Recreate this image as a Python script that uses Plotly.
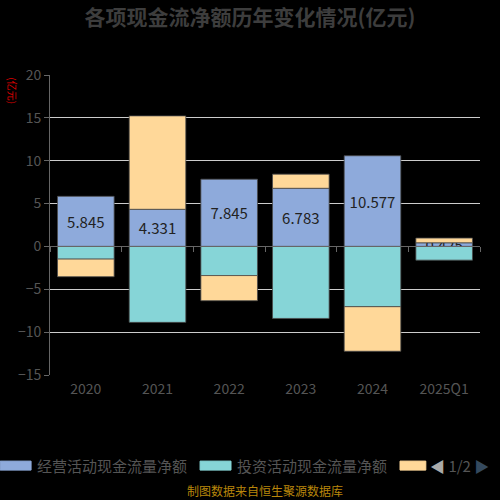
import plotly.graph_objects as go

categories = ["2020", "2021", "2022", "2023", "2024", "2025Q1"]
operating = [5.845, 4.331, 7.845, 6.783, 10.577, 0.425]
investing = [-1.48, -8.86, -3.40, -8.40, -7.03, -1.60]
financing = [-2.05, 10.90, -2.93, 1.65, -5.20, 0.55]
series_names = ["经营活动现金流量净额", "投资活动现金流量净额", "筹资活动现金流量净额"]
colors = ["#8eaadb", "#86d5d7", "#ffd899"]

font = "Noto Sans CJK SC"
fig = go.Figure()

for name, vals, col in zip(series_names, [operating, investing, financing], colors):
    fig.add_trace(go.Bar(
        x=categories, y=vals, name=name,
        marker=dict(color=col, line=dict(color="#4a4a4a", width=0.8)),
        text=[f"{v:.3f}" for v in vals] if vals is operating else None,
        textposition="inside" if vals is operating else None,
        insidetextanchor="middle",
        constraintext="none",
        textfont=dict(color="#222222", size=15, family=font),
        showlegend=False,
    ))

# axis line on zero with ticks between categories
fig.add_trace(go.Scatter(x=[None], y=[None], xaxis="x2", showlegend=False))

fig.update_layout(
    width=500, height=500,
    paper_bgcolor="black", plot_bgcolor="black",
    barmode="relative", bargap=0.21,
    margin=dict(l=50, r=20, t=75, b=125),
    font=dict(family=font, color="#555555"),
    title=dict(text="<b>各项现金流净额历年变化情况(亿元)</b>", x=0.5, xanchor="center",
               y=0.965, yanchor="middle",
               font=dict(size=21, color="#3d3d3d", family=font)),
    xaxis=dict(type="category", categoryarray=categories, showline=False, ticks="",
               showgrid=False, tickfont=dict(size=14, color="#555555"), ticklabelstandoff=4),
    xaxis2=dict(overlaying="x", anchor="free", position=15 / 35, range=[-0.5, 5.5],
                showline=True, linecolor="#666666", linewidth=1,
                tickmode="array", tickvals=[i - 0.5 for i in range(len(categories) + 1)],
                ticks="outside", ticklen=5, tickcolor="#666666",
                showticklabels=False, showgrid=False, zeroline=False),
    yaxis=dict(range=[-15, 20], dtick=5, showgrid=True, gridcolor="#cccccc", gridwidth=1,
               zeroline=False, showline=True, linecolor="#666666", ticks="outside",
               ticklen=5, tickcolor="#666666", tickfont=dict(size=14, color="#555555")),
    annotations=[
        dict(text="(亿元)", xref="paper", yref="paper", x=-0.088, y=1.0, xanchor="center",
             yanchor="top", textangle=90, showarrow=False,
             font=dict(size=10, color="#dd0000", family=font)),
        dict(text="经营活动现金流量净额", xref="paper", yref="paper", x=-0.035, y=-0.30,
             xanchor="left", yanchor="middle", showarrow=False,
             font=dict(size=15, color="#555555")),
        dict(text="投资活动现金流量净额", xref="paper", yref="paper", x=0.43, y=-0.30,
             xanchor="left", yanchor="middle", showarrow=False,
             font=dict(size=15, color="#555555")),
        dict(text="<span style='color:#aaaaaa'>◀</span> 1/2 <span style='color:#34495e'>▶</span>",
             xref="paper", yref="paper", x=0.88, y=-0.30, xanchor="left", yanchor="middle",
             showarrow=False, font=dict(size=15, color="#555555")),
        dict(text="制图数据来自恒生聚源数据库", xref="paper", yref="paper", x=0.5, y=-0.384,
             xanchor="center", yanchor="middle", showarrow=False,
             font=dict(size=12, color="#b8860b")),
    ],
    shapes=[
        dict(type="rect", xref="paper", yref="paper", x0=-0.116, x1=-0.044, y0=-0.287, y1=-0.317,
             fillcolor=colors[0], line=dict(color=colors[0], width=1)),
        dict(type="rect", xref="paper", yref="paper", x0=0.349, x1=0.421, y0=-0.287, y1=-0.317,
             fillcolor=colors[1], line=dict(color=colors[1], width=1)),
        dict(type="rect", xref="paper", yref="paper", x0=0.814, x1=0.874, y0=-0.287, y1=-0.317,
             fillcolor=colors[2], line=dict(color=colors[2], width=1)),
    ],
)

fig.write_html("out.html", config={"displayModeBar": False},
               post_script="document.body.style.margin='0';document.body.style.background='black';")
